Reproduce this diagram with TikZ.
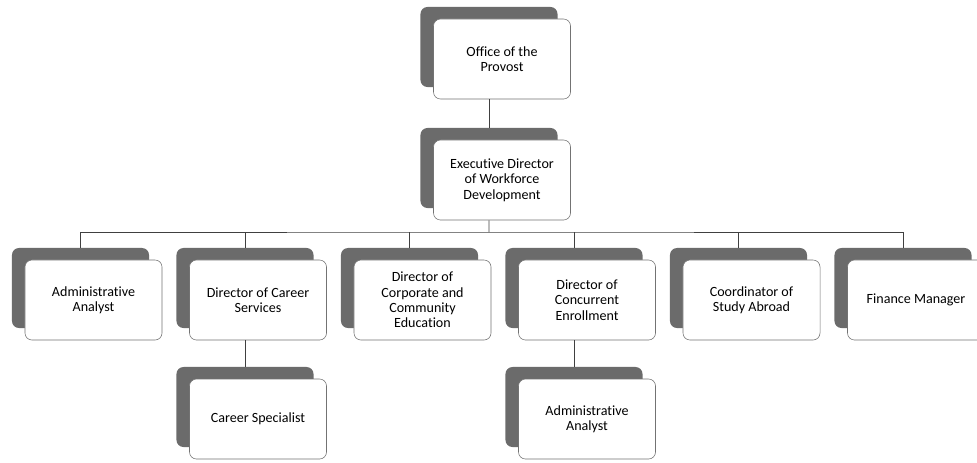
\documentclass[tikz,border=0pt]{standalone}
\usepackage{fontspec}
\setmainfont{Carlito}[Ligatures=NoCommon]
\usetikzlibrary{shadows}

\begin{document}
\begin{tikzpicture}[x=0.025cm,y=-0.025cm,
  unit/.style={draw=black!55, fill=white, rounded corners=5pt,
    minimum width=3.425cm, minimum height=2cm, align=center,
    font=\fontsize{10}{11}\selectfont,
    general shadow={fill=black!58, shadow xshift=-0.325cm, shadow yshift=0.3cm}},
  link/.style={draw=black!75, line width=0.6pt}]

\useasboundingbox (0,0) rectangle (977,462);

% top of the chart
\node [unit] (provost) at (502,59) {Office of the\\Provost};
\node [unit] (exec) at (502,180) {Executive Director\\of Workforce\\Development};

% second row
\node [unit] (analyst) at (93.5,300) {Administrative\\Analyst};
\node [unit] (career) at (258,300) {Director of Career\\Services};
\node [unit] (corporate) at (422.5,300) {Director of\\Corporate and\\Community\\Education};
\node [unit] (concurrent) at (587,300) {Director of\\Concurrent\\Enrollment};
\node [unit] (abroad) at (751.5,300) {Coordinator of\\Study Abroad};
\node [unit] (finance) at (916,300) {Finance Manager};

% third row
\node [unit] (specialist) at (258,419) {Career Specialist};
\node [unit] (analysttwo) at (587,419) {Administrative\\Analyst};

% connectors
\coordinate (bus) at (489,232);
\draw [link] ([xshift=-0.325cm]provost.south) -- ([xshift=-0.325cm,yshift=0.3cm]exec.north);
\draw [link] ([xshift=-0.325cm]exec.south) -- (bus);
\draw [link] ([xshift=-0.325cm,yshift=0.3cm]analyst.north) |- (bus)
  -| ([xshift=-0.325cm,yshift=0.3cm]finance.north);
\foreach \n in {career,corporate,concurrent,abroad}
  \draw [link] ([xshift=-0.325cm,yshift=0.3cm]\n.north) -- ++(0,0.4cm);
\draw [link] ([xshift=-0.325cm]career.south) -- ([xshift=-0.325cm,yshift=0.3cm]specialist.north);
\draw [link] ([xshift=-0.325cm]concurrent.south) -- ([xshift=-0.325cm,yshift=0.3cm]analysttwo.north);
\end{tikzpicture}
\end{document}
